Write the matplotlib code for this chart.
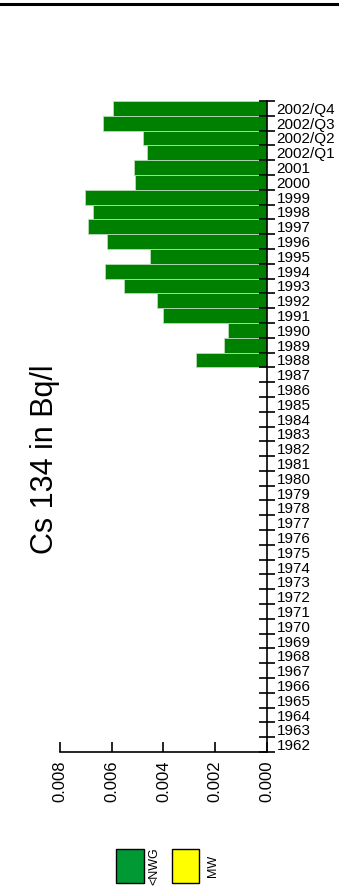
import matplotlib
matplotlib.use("Agg")
import matplotlib.pyplot as plt
from matplotlib.patches import Rectangle
from matplotlib.lines import Line2D
import numpy as np

plt.rcParams['font.family'] = ['Liberation Sans', 'DejaVu Sans']

# categories, bottom to top
years = [str(y) for y in range(1962, 2002)] + ['2002/Q1', '2002/Q2', '2002/Q3', '2002/Q4']
# Cs 134 values (Bq/l), same order; 1962-1987 are zero
cs134 = [0.0] * 26 + [
    0.00274, 0.00167, 0.00151, 0.00400, 0.00425, 0.00551, 0.00625, 0.00452,
    0.00619, 0.00691, 0.00673, 0.00703, 0.00510, 0.00514,
    0.00464, 0.00479, 0.00634, 0.00596,
]
value_ticks = [0.0, 0.002, 0.004, 0.006, 0.008]
legend_labels = ['<NWG', 'MW']
legend_colors = ['#009933', '#ffff00']

W, H = 339, 890
fig = plt.figure(figsize=(W / 100, H / 100), dpi=100)
ax = fig.add_axes([60 / W, (H - 752) / H, (267 - 60) / W, (752 - 101) / H])

pos = np.arange(len(years))
ax.barh(pos, cs134, height=1.0, color='#008000', edgecolor='#b8dcb8', linewidth=0.6)

ax.set_xlim(0.008, 0.0)
ax.set_ylim(-0.5, len(years) - 0.5)

for s in ['top', 'left']:
    ax.spines[s].set_visible(False)
ax.spines['right'].set_linewidth(1.2)
ax.spines['bottom'].set_linewidth(1.2)

# value axis
ax.set_xticks(value_ticks)
ax.set_xticklabels([f"{v:.3f}" for v in value_ticks], rotation=90, fontsize=12)
ax.tick_params(axis='x', direction='in', length=7, width=1.2, pad=6)

# category axis on the right: ticks at slot edges, labels at centres
ax.yaxis.tick_right()
ax.set_yticks(np.arange(len(years) + 1) - 0.5)
ax.set_yticklabels([])
ax.tick_params(axis='y', which='major', direction='inout', length=12, width=1.2)
ax.set_yticks(pos, minor=True)
ax.set_yticklabels(years, minor=True, fontsize=11)
ax.tick_params(axis='y', which='minor', length=0, pad=7)

fig.text(45 / W, 1 - 459 / H, 'Cs 134 in Bq/l', rotation=90, fontsize=22,
         ha='center', va='center')

# line across the top
fig.add_artist(Line2D([0, 1], [1 - 3.5 / H, 1 - 3.5 / H], color='black', linewidth=2.2))

# legend
boxes = [(116, 144), (172, 199)]
text_x = [154, 213]
for (x0, x1), tx, lab, col in zip(boxes, text_x, legend_labels, legend_colors):
    fig.add_artist(Rectangle((x0 / W, 1 - 883 / H), (x1 - x0) / W, 34 / H,
                             facecolor=col, edgecolor='black', linewidth=1.0,
                             transform=fig.transFigure))
    fig.text(tx / W, 1 - 866 / H, lab, rotation=90, fontsize=9,
             ha='center', va='center')

fig.savefig('out.png', dpi=100)
